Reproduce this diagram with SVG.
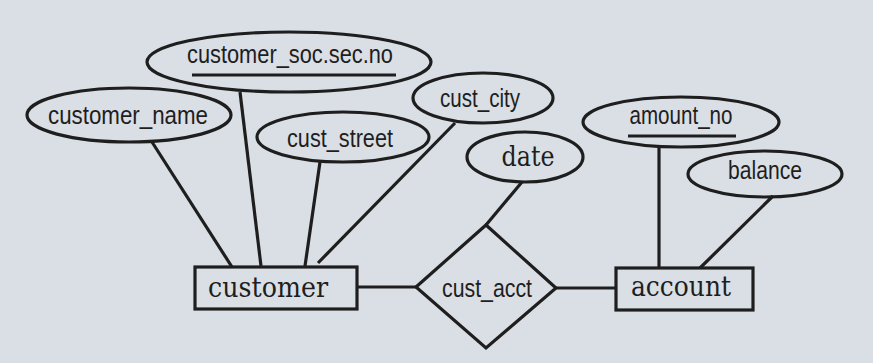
<svg xmlns="http://www.w3.org/2000/svg" width="873" height="363" viewBox="0 0 873 363">
<style>
.attr{fill:none;stroke:#1e1e1e;stroke-width:3.2}
.ent{fill:none;stroke:#1e1e1e;stroke-width:3.2}
.lbl{font-family:"Liberation Sans",Arial,sans-serif;font-size:25px;fill:#1e1e1e;text-anchor:middle}
.ser{font-family:"DejaVu Serif","Liberation Serif",serif;font-size:27px;fill:#1e1e1e;text-anchor:middle}
.key{stroke:#1e1e1e;stroke-width:3}
#connectors line{stroke:#1e1e1e;stroke-width:3.2}
</style>
<rect width="873" height="363" fill="#dadee5"/>
<g id="connectors">
<line x1="152" y1="142" x2="232" y2="267"/>
<line x1="240" y1="92" x2="261" y2="266"/>
<line x1="320" y1="162" x2="305" y2="266"/>
<line x1="455" y1="123" x2="318" y2="263"/>
<line x1="522" y1="182" x2="486" y2="225"/>
<line x1="357" y1="287" x2="416" y2="287"/>
<line x1="556" y1="288" x2="616" y2="288"/>
<line x1="659" y1="147" x2="659" y2="268"/>
<line x1="773" y1="196" x2="700" y2="268"/>
</g>
<g id="customer_name"><ellipse class="attr" cx="129" cy="115" rx="102" ry="27"/><text class="lbl" x="128" y="124" textLength="160" lengthAdjust="spacingAndGlyphs">customer_name</text></g>
<g id="customer_soc"><ellipse class="attr" cx="289" cy="62" rx="142" ry="30"/><text class="lbl" x="290" y="63" textLength="206" lengthAdjust="spacingAndGlyphs">customer_soc.sec.no</text><line class="key" x1="192" y1="75" x2="396" y2="75"/></g>
<g id="cust_street"><ellipse class="attr" cx="343" cy="137" rx="86" ry="25"/><text class="lbl" x="340" y="147" textLength="106" lengthAdjust="spacingAndGlyphs">cust_street</text></g>
<g id="cust_city"><ellipse class="attr" cx="483" cy="98" rx="70" ry="25"/><text class="lbl" x="480" y="107" textLength="80" lengthAdjust="spacingAndGlyphs">cust_city</text></g>
<g id="date"><ellipse class="attr" cx="525" cy="157" rx="58" ry="25"/><text class="ser" x="528" y="166" textLength="53" lengthAdjust="spacingAndGlyphs">date</text></g>
<g id="amount_no"><ellipse class="attr" cx="681" cy="122" rx="98" ry="25"/><text class="lbl" x="681" y="124" textLength="103" lengthAdjust="spacingAndGlyphs">amount_no</text><line class="key" x1="628" y1="136" x2="736" y2="136"/></g>
<g id="balance"><ellipse class="attr" cx="765" cy="174" rx="77" ry="23"/><text class="lbl" x="765" y="179" textLength="74" lengthAdjust="spacingAndGlyphs">balance</text></g>
<g id="customer"><rect class="ent" x="195" y="267" width="162" height="42"/><text class="ser" x="268" y="297" textLength="120" lengthAdjust="spacingAndGlyphs">customer</text></g>
<g id="cust_acct"><polygon class="ent" points="416,287 486,225 556,288 486,348"/><text class="lbl" x="487" y="297" textLength="90" lengthAdjust="spacingAndGlyphs">cust_acct</text></g>
<g id="account"><rect class="ent" x="616" y="268" width="137" height="42"/><text class="ser" x="681" y="296" textLength="100" lengthAdjust="spacingAndGlyphs">account</text></g>
</svg>
